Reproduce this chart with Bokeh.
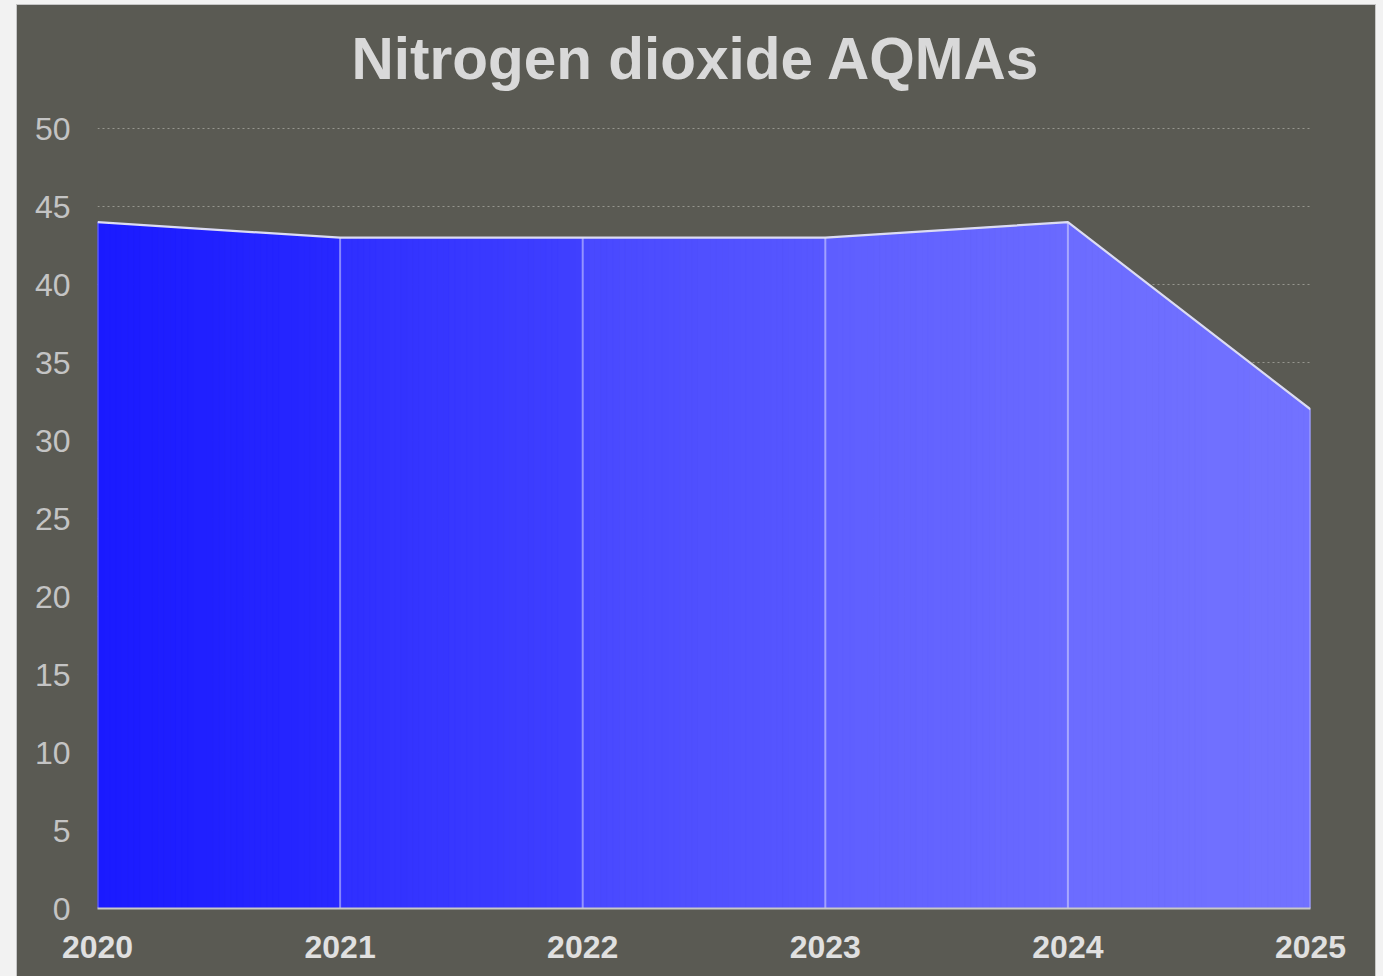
from bokeh.plotting import figure
from bokeh.models import FixedTicker, Range1d, Spacer, Label
from bokeh.layouts import column, row
from bokeh.embed import file_html
from bokeh.resources import INLINE

# ---- data ----
years = [2020, 2021, 2022, 2023, 2024, 2025]
aqmas = [44, 43, 43, 43, 44, 32]
y_ticks = [0, 5, 10, 15, 20, 25, 30, 35, 40, 45, 50]
title_text = "Nitrogen dioxide AQMAs"

# ---- style ----
seg_start = ["#1a1aff", "#2f2fff", "#4848ff", "#5e5eff", "#6c6cff"]
seg_end = ["#2828ff", "#4040ff", "#5858ff", "#6a6aff", "#7272ff"]
PANEL = "#5a5a53"
FONT = "Liberation Sans"
FIG_H = 971
BOTTOM = 68
AXIS_PX = 780  # pixel height of the 0..50 scale

def mix(c1, c2, t):
    a = [int(c1[i:i + 2], 16) for i in (1, 3, 5)]
    b = [int(c2[i:i + 2], 16) for i in (1, 3, 5)]
    return "#%02x%02x%02x" % tuple(round(a[j] + (b[j] - a[j]) * t) for j in range(3))


# the frame runs up to the top of the panel so the title can sit inside it;
# ticks/grid stop at 50 so the extra headroom is invisible
y_top = y_ticks[-1] * (FIG_H - BOTTOM) / AXIS_PX

p = figure(width=1358, height=FIG_H, output_backend="svg", toolbar_location=None,
           x_range=Range1d(years[0], years[-1]), y_range=Range1d(0, y_top),
           min_border_left=80, min_border_right=65, min_border_top=0,
           min_border_bottom=BOTTOM)
p.background_fill_color = PANEL
p.border_fill_color = PANEL
p.outline_line_color = None
p.styles = {"background-color": PANEL, "outline": "1px solid #c6c6c6"}

p.add_layout(Label(x=(years[0] + years[-1]) / 2, y=y_ticks[-1], x_offset=-8,
                   y_offset=70, text=title_text, text_align="center",
                   text_baseline="alphabetic", text_font=FONT,
                   text_font_size="58.5px", text_font_style="bold",
                   text_color="#d9d9d9"))

# gradient area built from each segment
xs, ys, cols = [], [], []
N = 40
for i in range(len(years) - 1):
    x0, x1 = years[i], years[i + 1]
    v0, v1 = aqmas[i], aqmas[i + 1]
    for k in range(N):
        ta, tb = k / N, (k + 1) / N
        xa, xb = x0 + (x1 - x0) * ta, x0 + (x1 - x0) * tb
        ya, yb = v0 + (v1 - v0) * ta, v0 + (v1 - v0) * tb
        xs.append([xa, xb, xb, xa])
        ys.append([0, 0, yb, ya])
        cols.append(mix(seg_start[i], seg_end[i], (k + 0.5) / N))
p.patches(xs, ys, fill_color=cols, line_color=cols, line_width=1)

p.segment(x0=years, y0=[0] * len(years), x1=years, y1=aqmas,
          line_color="#ffffff", line_alpha=0.42, line_width=2)
p.line(years, aqmas, line_color="#dcdcf2", line_width=2.2)

# axes
p.xaxis.ticker = FixedTicker(ticks=years)
p.yaxis.ticker = FixedTicker(ticks=y_ticks)
p.yaxis.axis_line_color = None
p.yaxis.major_tick_line_color = None
p.yaxis.minor_tick_line_color = None
p.yaxis.major_label_text_font = FONT
p.yaxis.major_label_text_font_size = "32px"
p.yaxis.major_label_text_color = "#c4c4c4"
p.yaxis.major_label_standoff = 21

p.xaxis.axis_line_color = "#c8c8c8"
p.xaxis.axis_line_width = 2
p.xaxis.major_tick_line_color = None
p.xaxis.minor_tick_line_color = None
p.xaxis.major_label_text_font = FONT
p.xaxis.major_label_text_font_size = "32px"
p.xaxis.major_label_text_font_style = "bold"
p.xaxis.major_label_text_color = "#e0e0e0"
p.xaxis.major_label_standoff = 21

p.xgrid.grid_line_color = None
p.ygrid.grid_line_color = "#96968f"
p.ygrid.grid_line_dash = "2 3"
p.ygrid.grid_line_width = 1

inner = row(Spacer(width=17, height=FIG_H), p)
root = column(Spacer(width=1383, height=5), inner,
              styles={"background-color": "#f2f2f2"})

open("out.html", "w").write(file_html(root, INLINE))
